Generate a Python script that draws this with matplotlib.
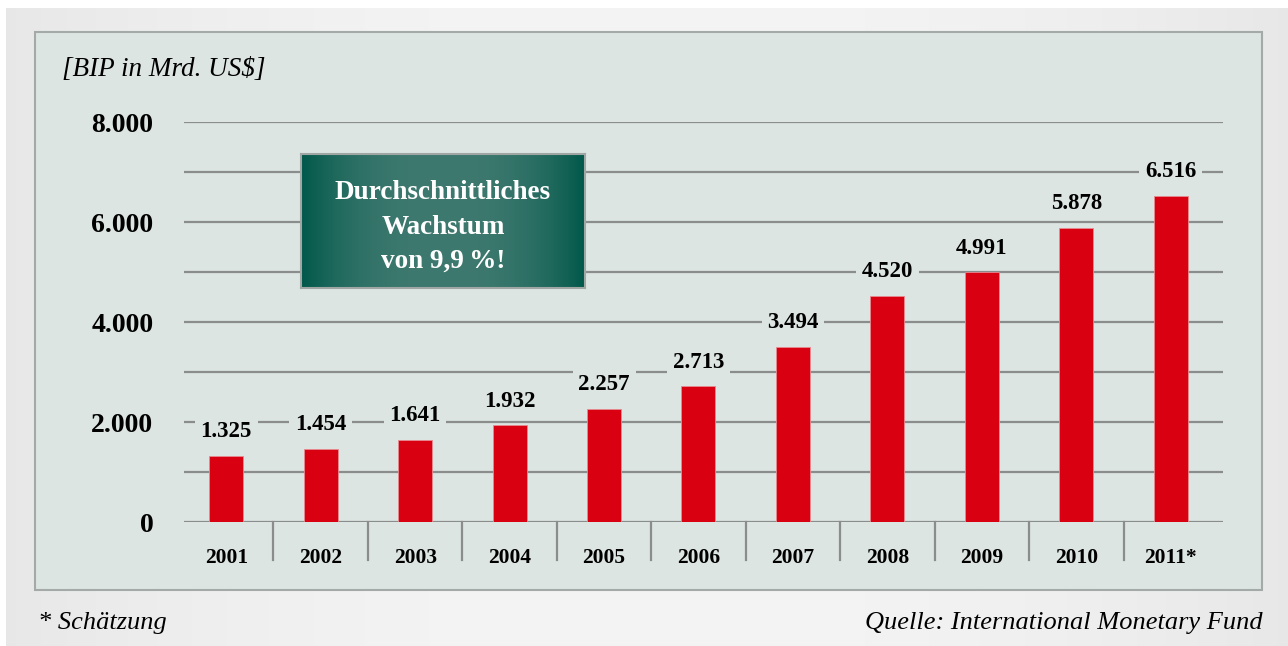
import numpy as np
import matplotlib.pyplot as plt
from matplotlib.patches import Rectangle

years = ["2001", "2002", "2003", "2004", "2005", "2006", "2007", "2008", "2009", "2010", "2011*"]
gdp = [1325, 1454, 1641, 1932, 2257, 2713, 3494, 4520, 4991, 5878, 6516]
labels = ["1.325", "1.454", "1.641", "1.932", "2.257", "2.713", "3.494", "4.520", "4.991", "5.878", "6.516"]
yticks = [0, 2000, 4000, 6000, 8000]
ytick_labels = ["0", "2.000", "4.000", "6.000", "8.000"]

W, H = 1288, 646
serif = ["Liberation Serif", "DejaVu Serif"]
plt.rcParams['font.family'] = serif
panel_col = "#dce5e1"

fig = plt.figure(figsize=(W / 100, H / 100), dpi=100)
fig.patch.set_facecolor("white")

# page background gradient + panel, in a full-figure axes (pixel coords)
bg = fig.add_axes([0, 0, 1, 1], zorder=-5)
bg.axis("off")
xs = np.linspace(0, 1, 400)
shade = 0.955 - 0.05 * (2 * xs - 1) ** 2
bg.imshow(np.tile(shade, (10, 1)), cmap="gray", vmin=0, vmax=1, aspect="auto",
          extent=[6, W, H, 8], zorder=0)
bg.add_patch(Rectangle((35, 32), 1262 - 35, 590 - 32, facecolor=panel_col,
                       edgecolor="#a3aaa7", linewidth=1.5, zorder=1))
bg.set_xlim(0, W)
bg.set_ylim(H, 0)

ax = fig.add_axes([184 / W, 1 - 522 / H, (1223 - 184) / W, 400 / H])
ax.set_facecolor("none")
x = np.arange(len(years))
shift = 0.053
ax.set_xlim(-0.5 + shift, len(years) - 0.5 + shift)
ax.set_ylim(0, 8000)

for v in range(0, 8001, 1000):
    ax.axhline(v, color="#8a8d8c", linewidth=1.6, zorder=1)

ax.bar(x, gdp, width=0.36, color="#d90012", edgecolor="#e88a90", linewidth=0.6, zorder=2)

for xi, v, lab in zip(x, gdp, labels):
    ax.annotate(lab, (xi, v), xytext=(0, 17.5), textcoords="offset points",
                ha="center", va="center", fontsize=16.5, fontweight="bold",
                bbox=dict(boxstyle="square,pad=0.25", facecolor=panel_col, edgecolor="none"),
                zorder=3)

for s in ax.spines.values():
    s.set_visible(False)
ax.set_yticks(yticks)
ax.set_yticklabels(ytick_labels, fontsize=20, fontweight="bold")
ax.tick_params(axis="y", length=0, pad=22)
ax.set_xticks(x)
ax.set_xticklabels(years, fontsize=15.5, fontweight="bold")
ax.tick_params(axis="x", length=0, pad=19)

# category separators below the axis
for b in x[:-1] + 0.5:
    ax.plot([b, b], [0, -760], color="#8a8d8c", linewidth=1.6, clip_on=False, zorder=1)

# green box with horizontal gradient
gx0, gx1, gy0, gy1 = 301 / W, 585 / W, 1 - 288 / H, 1 - 154 / H
gax = fig.add_axes([gx0, gy0, gx1 - gx0, gy1 - gy0], zorder=5)
gax.set_xlim(0, 1)
gax.set_ylim(0, 1)
t = np.linspace(0, 1, 300)
prof = 1 - np.abs(2 * t - 1) ** 2.5
c_dark = np.array([0x00, 0x58, 0x4a]) / 255
c_light = np.array([0x3e, 0x79, 0x6f]) / 255
img = c_dark[None, :] + (c_light - c_dark)[None, :] * prof[:, None]
gax.imshow(np.tile(img[None, :, :], (10, 1, 1)), aspect="auto", extent=[0, 1, 0, 1])
gax.set_xticks([])
gax.set_yticks([])
for s in gax.spines.values():
    s.set_color("#a0a6a4")
    s.set_linewidth(1.5)
gax.text(0.5, 0.455, "Durchschnittliches\nWachstum\nvon 9,9\u2009%!", color="white",
         ha="center", va="center", fontsize=19.5, fontweight="bold", linespacing=1.5,
         family=serif)

fig.text(62 / W, 1 - 70 / H, "[BIP in Mrd. US$]", fontsize=19.5, style="italic",
         ha="left", va="center")
fig.text(38 / W, 1 - 623 / H, "* Schätzung", fontsize=19, style="italic",
         ha="left", va="center")
fig.text(1263 / W, 1 - 623 / H, "Quelle: International Monetary Fund", fontsize=19,
         style="italic", ha="right", va="center")

fig.savefig("out.png", dpi=100)
